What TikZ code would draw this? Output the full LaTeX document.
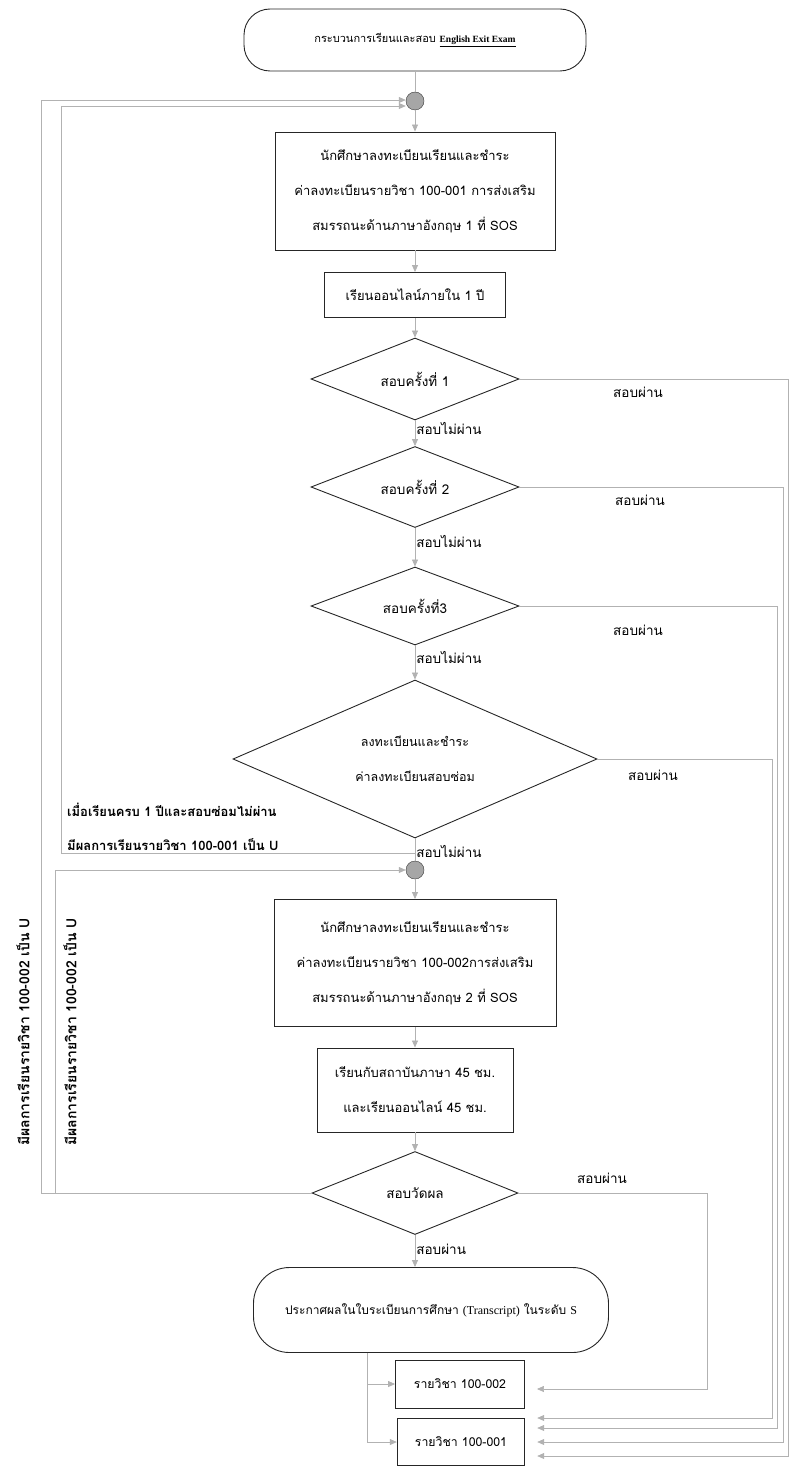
\documentclass[tikz,border=0pt]{standalone}
\usepackage{fontspec}
\setmainfont{Liberation Serif}
\newfontfamily\thai[Script=Thai]{Loma}
\usetikzlibrary{arrows.meta, shapes.geometric, positioning}

\tikzset{
  box/.style={draw=gray!30!black, line width=0.9pt, align=center, inner sep=0pt,
    font=\thai\fontsize{13}{35}\selectfont},
  term/.style={box, rounded corners=26pt},
  decision/.style={diamond, draw=gray!30!black, line width=0.9pt, aspect=2.3,
    inner sep=0pt, align=center, font=\thai\fontsize{13.5}{35}\selectfont},
  junction/.style={circle, fill=gray!70, draw=gray!45!black, minimum size=18pt, inner sep=0pt},
  link/.style={draw=gray!60, line width=0.7pt},
  flow/.style={link, -{Triangle[length=7pt,width=6pt]}},
  lbl/.style={font=\thai\fontsize{13.5}{14}\selectfont, anchor=west, inner sep=1pt},
  note/.style={font=\thai\bfseries\fontsize{13}{14}\selectfont, inner sep=1pt},
}

\begin{document}
\begin{tikzpicture}[x=1pt, y=-1pt]
\useasboundingbox (0,0) rectangle (789,1466);

% main column
\node[term, minimum width=342pt, minimum height=62pt, font=\thai\fontsize{11}{13}\selectfont] (t1) at (415,40)
  {กระบวนการเรียนและสอบ {\rmfamily\bfseries\fontsize{9.5}{12}\selectfont\underline{English Exit Exam}}};
\node[junction] (j1) at (415,101) {};
\node[box, minimum width=280pt, minimum height=118pt] (b1) at (415,191)
  {นักศึกษาลงทะเบียนเรียนและชำระ\\ค่าลงทะเบียนรายวิชา 100-001 การส่งเสริม\\สมรรถนะด้านภาษาอังกฤษ 1 ที่ SOS};
\node[box, minimum width=181pt, minimum height=45pt] (b2) at (415,295) {เรียนออนไลน์ภายใน 1 ปี};
\node[decision, minimum width=208pt, minimum height=82pt] (d1) at (415,379) {สอบครั้งที่ 1};
\node[decision, minimum width=208pt, minimum height=81pt] (d2) at (415,487) {สอบครั้งที่ 2};
\node[decision, minimum width=208pt, minimum height=78pt] (d3) at (415,606) {สอบครั้งที่3};
\node[decision, minimum width=364pt, minimum height=158pt, font=\thai\fontsize{12.5}{35}\selectfont] (d4) at (415,759)
  {ลงทะเบียนและชำระ\\ค่าลงทะเบียนสอบซ่อม};
\node[junction] (j2) at (415,870) {};
\node[box, minimum width=282pt, minimum height=127pt] (b3) at (415,963)
  {นักศึกษาลงทะเบียนเรียนและชำระ\\ค่าลงทะเบียนรายวิชา 100-002การส่งเสริม\\สมรรถนะด้านภาษาอังกฤษ 2 ที่ SOS};
\node[box, minimum width=196pt, minimum height=84pt] (b4) at (415,1090)
  {เรียนกับสถาบันภาษา 45 ชม.\\และเรียนออนไลน์ 45 ชม.};
\node[decision, minimum width=206pt, minimum height=83pt] (d5) at (415,1193) {สอบวัดผล};
\node[term, rounded corners=36pt, minimum width=355pt, minimum height=85pt, font=\thai\fontsize{12}{14}\selectfont] (t2) at (431,1310)
  {ประกาศผลในใบระเบียนการศึกษา {\rmfamily (Transcript)} ในระดับ {\rmfamily S}};
\node[box, minimum width=129pt, minimum height=48pt, font=\thai\fontsize{12.3}{14}\selectfont] (r2) at (460,1384) {รายวิชา 100-002};
\node[box, line width=1.4pt, minimum width=127pt, minimum height=47pt, font=\thai\fontsize{12.3}{14}\selectfont] (r1) at (461,1442) {รายวิชา 100-001};

% rails
\coordinate (fork) at (415,853);
\coordinate (railA) at (41,0);
\coordinate (railB) at (55,0);
\coordinate (railC) at (61,0);
\coordinate (railE) at (707,0);
\coordinate (railR) at (772,0);
\coordinate (rail3) at (777,0);
\coordinate (rail2) at (783,0);
\coordinate (rail1) at (788,0);

% down the column
\draw[link] (t1) -- (j1);
\draw[flow] (j1) -- (b1);
\draw[flow] (b1) -- (b2);
\draw[flow] (b2) -- (d1);
\draw[flow] (d1) -- node[lbl, pos=0.3] {สอบไม่ผ่าน} (d2);
\draw[flow] (d2) -- node[lbl, pos=0.35] {สอบไม่ผ่าน} (d3);
\draw[flow] (d3) -- node[lbl, pos=0.35] {สอบไม่ผ่าน} (d4);
\draw[link] (d4) -- node[lbl, pos=0.6] {สอบไม่ผ่าน} (j2);
\draw[flow] (j2) -- (b3);
\draw[flow] (b3) -- (b4);
\draw[flow] (b4) -- (d5);
\draw[flow] (d5) -- node[lbl, pos=0.45] {สอบผ่าน} (t2.north -| d5.south);
\draw[flow] ([xshift=-64pt]t2.south) |- (r2.west);
\draw[flow] ([xshift=-64pt]t2.south) |- (r1.west);

% passed
\draw[flow, shorten >=12pt] (d1.east) -- (d1.east -| rail1) |- ([yshift=-14pt]r1.east);
\draw[flow, shorten >=12pt] (d2.east) -- (d2.east -| rail2) |- ([yshift=0pt]r1.east);
\draw[flow, shorten >=12pt] (d3.east) -- (d3.east -| rail3) |- ([yshift=14pt]r1.east);
\draw[flow, shorten >=12pt] (d4.east) -- (d4.east -| railR) |- ([yshift=24pt]r1.east);
\draw[flow, shorten >=12pt] (d5.east) -- (d5.east -| railE) |- ([yshift=-5pt]r2.east);
\node[lbl] (p1) at (612,392) {สอบผ่าน};
\node[lbl] (p2) at (614,500) {สอบผ่าน};
\node[lbl] (p3) at (612,630) {สอบผ่าน};
\node[lbl] (p4) at (627,775) {สอบผ่าน};
\node[lbl] (p5) at (576,1178) {สอบผ่าน};

% failed, back round the left
\draw[flow] (fork) -- (fork -| railC) |- ([yshift=-5pt]j1.west);
\draw[flow] (d5.west) -- (d5.west -| railA) |- ([yshift=1pt]j1.west);
\draw[flow] (d5.west) -- (d5.west -| railB) |- (j2.west);
\node[note, anchor=west] (n1) at (66,810) {เมื่อเรียนครบ 1 ปีและสอบซ่อมไม่ผ่าน};
\node[note, anchor=west] (n2) at (66,845) {มีผลการเรียนรายวิชา 100-001 เป็น U};
\node[note, rotate=90, font=\thai\bfseries\fontsize{14}{15}\selectfont] (v1) at (23,1032) {มีผลการเรียนรายวิชา 100-002 เป็น U};
\node[note, rotate=90, font=\thai\bfseries\fontsize{14}{15}\selectfont] (v2) at (70,1032) {มีผลการเรียนรายวิชา 100-002 เป็น U};
\end{tikzpicture}
\end{document}
